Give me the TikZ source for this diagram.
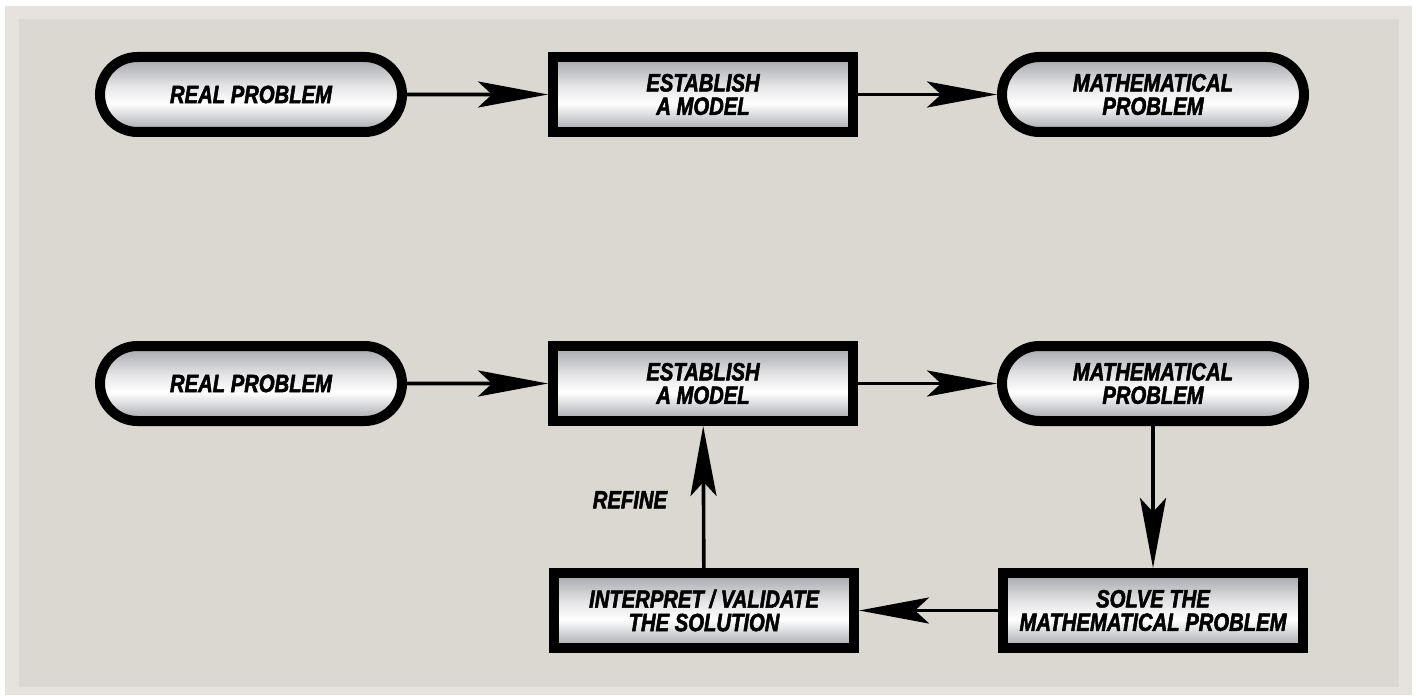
\documentclass[tikz,border=0pt]{standalone}
\usepackage{fontspec}
\setmainfont{Liberation Sans}[FakeStretch=0.81, FakeBold=2]
\usepackage{tikz}
\usetikzlibrary{shapes.misc, positioning, arrows.meta}

\definecolor{frameout}{HTML}{E6E3DF}
\definecolor{panel}{HTML}{DBD7D1}
\definecolor{metaldark}{HTML}{A2A3A8}
\definecolor{metallight}{HTML}{E4E4E6}
\pgfdeclareverticalshading{metal}{100bp}{color(0bp)=(metaldark); color(25bp)=(metaldark); color(44bp)=(white); color(56bp)=(metallight); color(75bp)=(metaldark); color(100bp)=(metaldark)}

\begin{document}
\begin{tikzpicture}[
        x=0.5pt, y=-0.5pt,
        stage/.style={line width=5pt, draw=black, shading=metal, minimum height=37.5pt,
            align=center, font=\fontsize{12.5}{11.7}\selectfont\bfseries\itshape, inner sep=2pt},
        problem/.style={stage, rounded rectangle, minimum width=155pt},
        task/.style={stage, rectangle, minimum width=150pt},
        flow/.style={-{Stealth[length=35pt, width=13pt, inset=7pt]}, line width=1.8pt}
    ]
        % Background
        \useasboundingbox (0,0) rectangle (1416,695);
        \fill[white] (0,0) rectangle (1416,695);
        \fill[frameout] (5,6) rectangle (1412,695);
        \fill[panel] (19,19) rectangle (1399,687);

        % Nodes, simple scheme
        \node[problem] (real1) at (251,94.5) {REAL PROBLEM};
        \node[task, right=70.5pt of real1] (model1) {ESTABLISH\\A MODEL};
        \node[problem, right=69.5pt of model1] (math1) {MATHEMATICAL\\PROBLEM};

        % Nodes, with the loop
        \node[problem] (real2) at (251,383.5) {REAL PROBLEM};
        \node[task, right=70.5pt of real2] (model2) {ESTABLISH\\A MODEL};
        \node[problem, right=69.5pt of model2] (math2) {MATHEMATICAL\\PROBLEM};
        \node[task, below=71pt of math2] (solve) {SOLVE THE\\MATHEMATICAL PROBLEM};
        \node[task, left=69.5pt of solve] (interp) {INTERPRET / VALIDATE\\THE SOLUTION};

        % Arrows
        \draw[flow] (real1) -- (model1);
        \draw[flow] (model1) -- (math1);
        \draw[flow] (real2) -- (model2);
        \draw[flow] (model2) -- (math2);
        \draw[flow] (math2) -- (solve);
        \draw[flow] (solve) -- (interp);
        \draw[flow] (interp) -- (model2) node[pos=0.48, left=14pt, font=\fontsize{12.5}{12}\selectfont\bfseries\itshape] {REFINE};
    \end{tikzpicture}
\end{document}
